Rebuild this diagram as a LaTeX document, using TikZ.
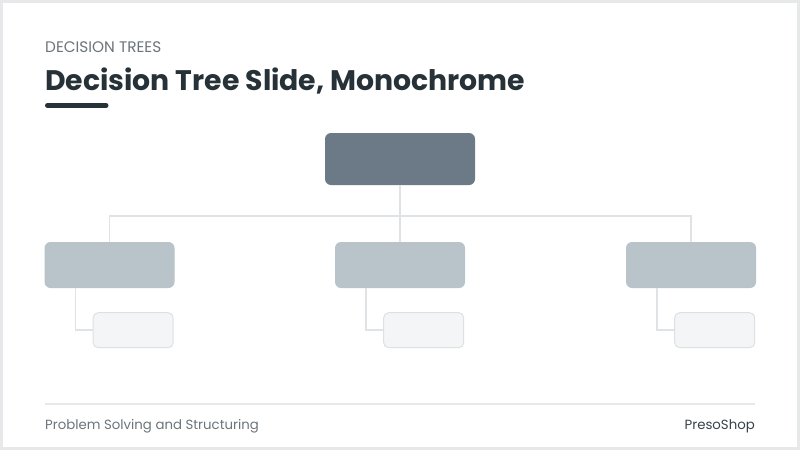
\documentclass[tikz,border=0pt]{standalone}
\usepackage{fontspec}
\setmainfont{Poppins}
\usetikzlibrary{positioning}
\definecolor{ink}{HTML}{263238}
\definecolor{muted}{HTML}{6B757C}
\definecolor{brand}{HTML}{37434B}
\definecolor{rootfill}{HTML}{6B7A86}
\definecolor{childfill}{HTML}{B8C3CA}
\definecolor{leaffill}{HTML}{F4F5F6}
\definecolor{leafline}{HTML}{DDE1E4}
\definecolor{linkgray}{HTML}{DFE3E6}
\definecolor{framegray}{HTML}{E6E8EA}
\tikzset{
	rootbox/.style={fill=rootfill, rounded corners=6pt, minimum width=150pt, minimum height=52pt, inner sep=0pt},
	childbox/.style={fill=childfill, rounded corners=6pt, minimum width=130pt, minimum height=46pt, inner sep=0pt},
	leafbox/.style={fill=leaffill, draw=leafline, line width=1pt, rounded corners=5pt, minimum width=80pt, minimum height=35pt, inner sep=0pt},
	link/.style={draw=linkgray, line width=1.6pt}
}
\begin{document}
\begin{tikzpicture}[x=1pt,y=-1pt]
		\useasboundingbox (0,0) rectangle (800,450);
		\fill[white] (0,0) rectangle (800,450);
		\draw[framegray, line width=3pt] (1.5,1.5) rectangle (798.5,448.5);
		
		% header
		\node[anchor=base west, inner sep=0pt, text=muted, font=\fontsize{15.3}{18}\selectfont] (kicker) at (45,52) {DECISION TREES};
		\node[anchor=base west, inner sep=0pt, text=ink, font=\fontsize{28.3}{32}\selectfont\bfseries] (title) at (45,90.5) {Decision Tree Slide, Monochrome};
		\draw[ink, line width=5pt, line cap=round] (47.5,105.5) -- (106,105.5);
		
		% tree
		\node[rootbox] (root) at (400,159) {};
		\coordinate (hub) at (400,216);
		\draw[link] (root.south) -- (hub);
		\foreach \i/\x in {1/109.5, 2/400, 3/691}{
			\node[childbox] (c\i) at (\x,265) {};
			\node[leafbox, below left=24pt and 1pt of c\i.south east] (l\i) {};
			\draw[link] (hub) -| (c\i.north);
			\draw[link] ([xshift=31pt]c\i.south west) |- (l\i.west);
		}
		
		% footer
		\draw[framegray, line width=2pt] (45,404) -- (755,404);
		\node[anchor=base west, inner sep=0pt, text=muted, font=\fontsize{13.3}{15}\selectfont] (topic) at (45,429) {Problem Solving and Structuring};
		\node[anchor=base east, inner sep=0pt, text=brand, font=\fontsize{13.3}{15}\selectfont] (brandname) at (755,429) {PresoShop};
\end{tikzpicture}
\end{document}
